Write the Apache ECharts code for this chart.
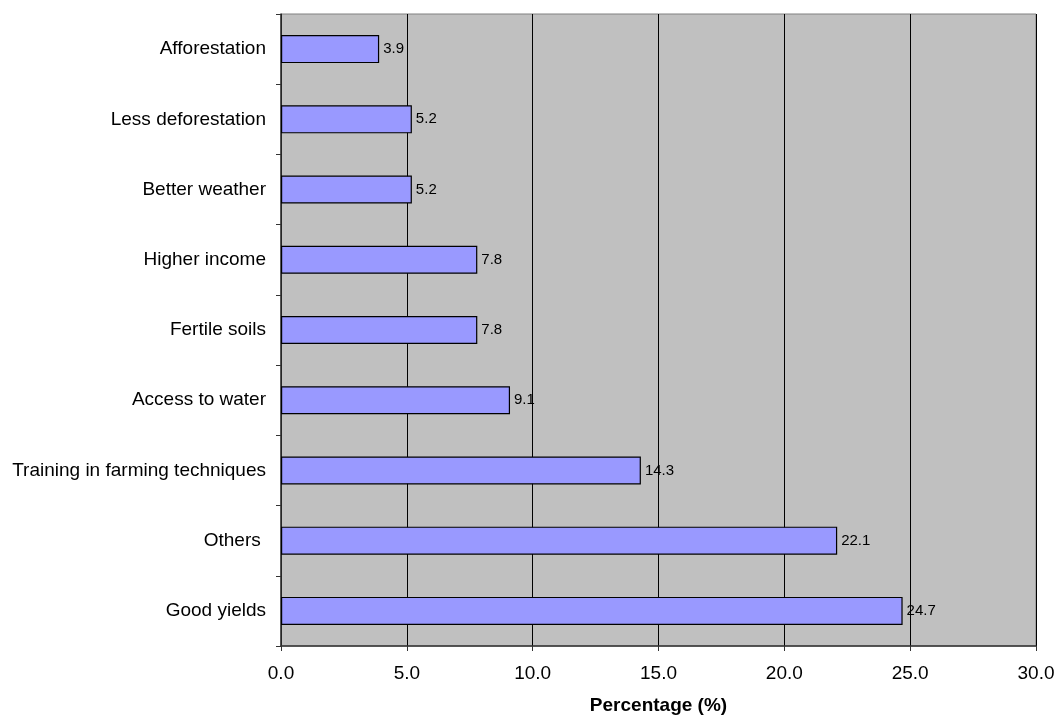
<!DOCTYPE html>
<html>
<head>
<meta charset="utf-8">
<script src="https://cdn.jsdelivr.net/npm/echarts@6/dist/echarts.min.js"></script>
<style>
  html, body { margin: 0; padding: 0; background: #ffffff; }
  #chart { width: 1058px; height: 715px; }
</style>
</head>
<body>
<div id="chart"></div>
<script>
// Categories listed bottom to top (category axis starts at the bottom)
const categories = [
  'Good yields',
  'Others ',
  'Training in farming techniques',
  'Access to water',
  'Fertile soils',
  'Higher income',
  'Better weather',
  'Less deforestation',
  'Afforestation'
];
const percentages = [24.7, 22.1, 14.3, 9.1, 7.8, 7.8, 5.2, 5.2, 3.9];
const axisMin = 0;
const axisMax = 30;
const axisStep = 5;

const chart = echarts.init(document.getElementById('chart'), null, { renderer: 'canvas' });

chart.setOption({
  animation: false,
  textStyle: { fontFamily: 'Liberation Sans, Arial, sans-serif' },
  grid: {
    left: 281, right: 22, top: 14, bottom: 69,
    outerBoundsMode: 'none',
    containLabel: false,
    show: true,
    backgroundColor: '#c0c0c0',
    borderColor: '#808080',
    borderWidth: 1
  },
  xAxis: {
    type: 'value',
    min: axisMin,
    max: axisMax,
    interval: axisStep,
    name: 'Percentage (%)',
    nameLocation: 'middle',
    nameGap: 50,
    nameTextStyle: { fontSize: 19, fontWeight: 'bold', color: '#000' },
    axisLine: { show: true, lineStyle: { color: '#333', width: 1.5 } },
    axisTick: { show: true, length: 5, lineStyle: { color: '#333' } },
    axisLabel: {
      color: '#000', fontSize: 19, margin: 18,
      formatter: v => v.toFixed(1)
    },
    splitLine: { show: true, lineStyle: { color: '#000', width: 1 } }
  },
  yAxis: {
    type: 'category',
    data: categories,
    axisLine: { show: true, lineStyle: { color: '#333', width: 1.5 } },
    axisTick: { show: true, length: 5, lineStyle: { color: '#333' } },
    axisLabel: { color: '#000', fontSize: 19, margin: 15 },
    splitLine: { show: false }
  },
  series: [{
    type: 'bar',
    data: percentages,
    barWidth: 28,
    itemStyle: { color: '#9999ff', borderColor: '#000', borderWidth: 1.2 },
    label: {
      show: true,
      position: 'right',
      distance: 4,
      color: '#000',
      fontSize: 15,
      formatter: p => p.value.toFixed(1)
    }
  }]
});
</script>
</body>
</html>
